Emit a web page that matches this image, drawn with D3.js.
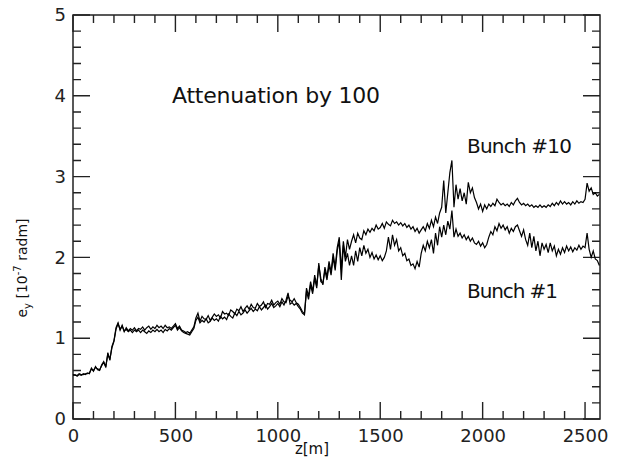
<!DOCTYPE html>
<html><head><meta charset="utf-8">
<script src="https://cdn.jsdelivr.net/npm/d3@7"></script>
<style>
html,body{margin:0;padding:0;background:#fff;}
</style></head>
<body>
<svg id="c" width="620" height="464"></svg>
<script>
// sampling grid along z [m], every 10 m from 0 to 2570
const zGrid = d3.range(0, 2580, 10);

const bunch10 = [
0.54,0.55,0.53,0.55,0.54,0.56,0.55,0.57,0.56,0.63,0.59,0.65,0.61,0.60,0.67,0.71,0.64,0.82,0.73,0.90,0.97,1.13,1.19,1.10,1.16,1.08,
1.13,1.09,1.12,1.10,1.13,1.09,1.12,1.11,1.14,1.10,1.13,1.15,1.11,1.14,1.12,1.16,1.13,1.15,1.12,1.16,1.13,1.14,1.12,1.15,1.18,1.12,1.15,1.10,1.09,1.07,1.08,1.06,1.10,1.14,
1.25,1.31,1.21,1.27,1.24,1.23,1.28,1.22,1.26,1.30,1.27,1.29,1.25,1.33,1.30,1.31,1.28,1.35,1.33,1.30,1.36,1.34,1.39,1.33,1.37,1.40,1.36,1.42,1.38,1.37,1.43,1.39,1.41,1.45,1.38,1.43,1.42,1.47,1.41,1.44,1.46,1.42,1.49,1.45,1.44,1.52,1.47,1.45,1.49,1.44,1.42,
1.38,1.33,1.30,1.62,1.52,1.70,1.58,1.78,1.65,1.90,1.74,1.66,1.88,1.76,1.95,1.82,2.05,1.88,2.12,2.25,1.85,2.20,2.00,2.22,2.10,
2.20,2.28,2.18,2.30,2.24,2.22,2.33,2.28,2.35,2.31,2.36,2.33,2.40,2.35,2.37,2.42,2.36,2.44,2.41,2.39,2.46,2.42,2.44,2.40,2.43,2.39,2.42,2.37,2.40,2.35,2.38,2.32,2.36,2.30,2.34,2.38,2.33,2.42,2.36,2.46,2.38,2.50,2.42,2.55,2.62,
2.95,2.55,2.80,3.05,3.20,2.62,2.90,2.72,2.85,2.70,2.80,2.66,2.93,2.80,2.86,2.74,
2.68,2.60,2.66,2.57,2.65,2.60,2.66,2.63,2.67,2.64,2.72,2.68,2.65,2.67,2.64,2.66,2.63,2.68,2.65,2.70,2.73,2.68,2.65,2.67,2.64,2.66,2.63,2.65,2.62,2.64,2.62,2.65,2.62,2.64,2.62,2.65,2.63,2.67,2.64,2.68,2.65,2.70,2.66,2.69,2.66,2.68,2.65,2.69,2.66,2.70,2.67,2.69,2.68,2.72,
2.92,2.82,2.86,2.78,2.80,2.76,2.78
];

const bunch1 = [
0.55,0.54,0.54,0.56,0.55,0.55,0.56,0.56,0.57,0.62,0.60,0.64,0.62,0.61,0.66,0.70,0.65,0.80,0.74,0.88,0.96,1.11,1.18,1.11,1.15,1.09,
1.11,1.08,1.10,1.07,1.10,1.08,1.10,1.07,1.10,1.08,1.06,1.09,1.07,1.10,1.08,1.11,1.08,1.10,1.07,1.11,1.09,1.12,1.10,1.13,1.16,1.10,1.13,1.09,1.07,1.06,1.05,1.04,1.08,1.12,
1.22,1.26,1.19,1.22,1.20,1.24,1.19,1.21,1.25,1.22,1.24,1.21,1.27,1.24,1.26,1.23,1.30,1.27,1.25,1.31,1.28,1.33,1.29,1.31,1.35,1.31,1.34,1.37,1.33,1.36,1.34,1.39,1.35,1.38,1.41,1.36,1.39,1.43,1.38,1.40,1.43,1.39,1.45,1.41,1.47,1.56,1.42,1.44,1.41,1.43,1.39,
1.36,1.31,1.29,1.58,1.48,1.66,1.55,1.74,1.62,1.93,1.70,1.68,1.84,1.72,1.90,1.78,2.00,1.84,2.08,2.20,1.72,2.15,1.95,2.05,1.90,
2.02,1.90,2.08,1.95,2.12,2.02,2.15,2.05,2.10,2.00,2.06,1.98,2.03,1.97,2.02,1.96,2.00,2.08,2.25,2.10,2.28,2.15,2.22,2.08,2.12,2.02,2.05,1.96,1.98,1.90,1.92,1.86,1.95,1.88,2.05,2.15,2.08,2.20,2.12,2.22,2.05,2.30,2.15,2.38,2.25,
2.40,2.28,2.45,2.35,2.58,2.25,2.35,2.26,2.30,2.24,2.28,2.22,2.26,2.20,2.24,2.18,
2.16,2.20,2.14,2.18,2.12,2.16,2.25,2.32,2.28,2.38,2.33,2.42,2.36,2.40,2.34,2.38,2.30,2.36,2.32,2.38,2.40,2.33,2.26,2.34,2.22,2.15,2.30,2.12,2.26,2.08,2.20,2.02,2.18,2.10,2.16,2.06,2.18,2.08,2.14,2.02,2.10,2.04,2.12,2.06,2.14,2.08,2.13,2.07,2.12,2.09,2.15,2.10,2.14,2.12,
2.30,2.10,2.00,2.08,1.98,1.96,1.90
];

const xTicks = [0, 500, 1000, 1500, 2000, 2500];
const yTicks = [0, 1, 2, 3, 4, 5];
const xMinorTicks = [100,200,300,400,600,700,800,900,1100,1200,1300,1400,1600,1700,1800,1900,2100,2200,2300,2400];
const yMinorTicks = [0.2,0.4,0.6,0.8,1.2,1.4,1.6,1.8,2.2,2.4,2.6,2.8,3.2,3.4,3.6,3.8,4.2,4.4,4.6,4.8];
const xDomain = [0, 2573];
const yDomain = [0, 5];

const svg = d3.select("#c");
const L = 73, R = 600, T = 15, B = 419;
const x = d3.scaleLinear().domain(xDomain).range([L, R]);
const y = d3.scaleLinear().domain(yDomain).range([B, T]);
const FONT = "DejaVu Sans, sans-serif";

// frame
svg.append("rect").attr("x", L).attr("y", T).attr("width", R - L).attr("height", B - T)
  .attr("fill", "none").attr("stroke", "#222").attr("stroke-width", 1.5);

// inward ticks on all four sides
const p = d3.path();
function xt(vals, len){
  vals.forEach(v => {
    const px = x(v);
    p.moveTo(px, B); p.lineTo(px, B - len);
    p.moveTo(px, T); p.lineTo(px, T + len);
  });
}
function yt(vals, len){
  vals.forEach(v => {
    const py = y(v);
    p.moveTo(L, py); p.lineTo(L + len, py);
    p.moveTo(R, py); p.lineTo(R - len, py);
  });
}
xt(xMinorTicks, 8); xt(xTicks, 17);
yt(yMinorTicks, 8); yt(yTicks, 17);
svg.append("path").attr("d", p.toString()).attr("fill", "none")
  .attr("stroke", "#222").attr("stroke-width", 1.4);

// data lines
const line = d3.line().x((d, i) => x(zGrid[i])).y(d => y(d));
[bunch1, bunch10].forEach(s => {
  svg.append("path").datum(s).attr("d", line)
    .attr("fill", "none").attr("stroke", "#000").attr("stroke-width", 1.2);
});

// tick labels
svg.append("g").attr("transform", `translate(0,${B})`)
  .call(d3.axisBottom(x).tickValues(xTicks).tickSize(0).tickPadding(10).tickFormat(d3.format("d")))
  .call(g => { g.select(".domain").remove(); g.selectAll("line").remove(); })
  .call(g => g.selectAll("text").attr("font-size", 18).attr("font-family", FONT).attr("fill", "#222"));
svg.append("g").attr("transform", `translate(${L},0)`)
  .call(d3.axisLeft(y).tickValues(yTicks).tickSize(0).tickPadding(7).tickFormat(d3.format("d")))
  .call(g => { g.select(".domain").remove(); g.selectAll("line").remove(); })
  .call(g => g.selectAll("text").attr("font-size", 18).attr("font-family", FONT).attr("fill", "#222"));

// annotations
function label(tx, ty, size, len, str){
  svg.append("text").attr("x", tx).attr("y", ty).attr("font-size", size).attr("font-family", FONT)
    .attr("fill", "#111").attr("textLength", len).attr("lengthAdjust", "spacing").text(str);
}
label(172, 103, 22, 208, "Attenuation by 100");
label(467, 153, 20, 105, "Bunch #10");
label(467, 298, 20, 91, "Bunch #1");

// axis titles
svg.append("text").attr("x", 312).attr("y", 454).attr("font-size", 15).attr("font-family", FONT)
  .attr("fill", "#111").attr("text-anchor", "middle").text("z[m]");
const yl = svg.append("text").attr("transform", "translate(27,268) rotate(-90)")
  .attr("font-size", 14).attr("font-family", FONT).attr("fill", "#111").attr("text-anchor", "middle");
yl.append("tspan").text("e");
yl.append("tspan").attr("font-size", 10).attr("dy", 4).text("y");
yl.append("tspan").attr("dy", -4).text(" [10");
yl.append("tspan").attr("font-size", 10).attr("dy", -6).text("-7");
yl.append("tspan").attr("dy", 6).text(" radm]");
</script>
</body></html>
